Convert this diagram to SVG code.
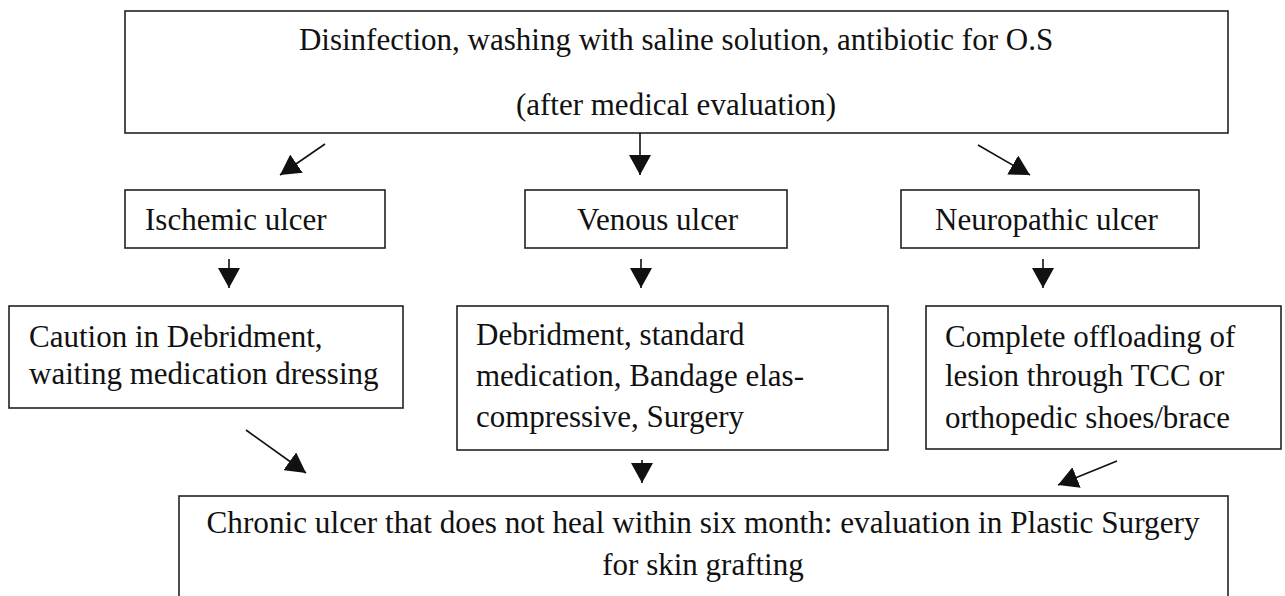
<svg xmlns="http://www.w3.org/2000/svg" width="1285" height="596" viewBox="0 0 1285 596">
<style>
.box{fill:#fff;stroke:#222;stroke-width:1.6}
.t{font-family:"Liberation Serif","Times New Roman",serif;font-size:31px;fill:#111}
.c{text-anchor:middle}
.ln{stroke:#111;stroke-width:1.6;fill:none}
.hd{fill:#111}
</style>
<defs>
<marker id="ah" viewBox="0 0 20 22" refX="20" refY="11" markerWidth="20" markerHeight="22" markerUnits="userSpaceOnUse" orient="auto">
<path d="M0,0 L20,11 L0,22 Z" class="hd"/>
</marker>
</defs>
<rect width="1285" height="596" fill="#fff"/>
<g id="top">
<rect class="box" x="125" y="11" width="1103" height="122"/>
<text class="t c" x="676" y="50">Disinfection, washing with saline solution, antibiotic for O.S</text>
<text class="t c" x="676" y="115">(after medical evaluation)</text>
</g>
<g id="ischemic">
<rect class="box" x="125" y="190" width="260" height="58"/>
<text class="t" x="145" y="230">Ischemic ulcer</text>
</g>
<g id="venous">
<rect class="box" x="525" y="190" width="262" height="58"/>
<text class="t" x="577" y="230">Venous ulcer</text>
</g>
<g id="neuropathic">
<rect class="box" x="901" y="190" width="298" height="58"/>
<text class="t" x="935" y="230">Neuropathic ulcer</text>
</g>
<g id="caution">
<rect class="box" x="9" y="306" width="394" height="102"/>
<text class="t" x="29" y="347">Caution in Debridment,</text>
<text class="t" x="29" y="384">waiting medication dressing</text>
</g>
<g id="debridment">
<rect class="box" x="457" y="306" width="431" height="144"/>
<text class="t" x="476" y="345">Debridment, standard</text>
<text class="t" x="476" y="386">medication, Bandage elas-</text>
<text class="t" x="476" y="427">compressive, Surgery</text>
</g>
<g id="complete">
<rect class="box" x="926" y="306" width="355" height="143"/>
<text class="t" x="945" y="347">Complete offloading of</text>
<text class="t" x="945" y="386">lesion through TCC or</text>
<text class="t" x="945" y="428">orthopedic shoes/brace</text>
</g>
<g id="chronic">
<rect class="box" x="179" y="496" width="1049" height="110"/>
<text class="t c" x="703" y="533" textLength="993" lengthAdjust="spacingAndGlyphs">Chronic ulcer that does not heal within six month: evaluation in Plastic Surgery</text>
<text class="t c" x="703" y="575">for skin grafting</text>
</g>
<g id="connectors">
<line class="ln" x1="325" y1="144" x2="280" y2="175" marker-end="url(#ah)"/>
<line class="ln" x1="640" y1="133" x2="640" y2="175" marker-end="url(#ah)"/>
<line class="ln" x1="978" y1="145" x2="1030" y2="175" marker-end="url(#ah)"/>
<line class="ln" x1="229" y1="259" x2="229" y2="288" marker-end="url(#ah)"/>
<line class="ln" x1="641" y1="259" x2="641" y2="288" marker-end="url(#ah)"/>
<line class="ln" x1="1043" y1="259" x2="1043" y2="288" marker-end="url(#ah)"/>
<line class="ln" x1="246" y1="430" x2="306" y2="473" marker-end="url(#ah)"/>
<line class="ln" x1="642" y1="460" x2="642" y2="483" marker-end="url(#ah)"/>
<line class="ln" x1="1117" y1="461" x2="1058" y2="485" marker-end="url(#ah)"/>
</g>
</svg>
